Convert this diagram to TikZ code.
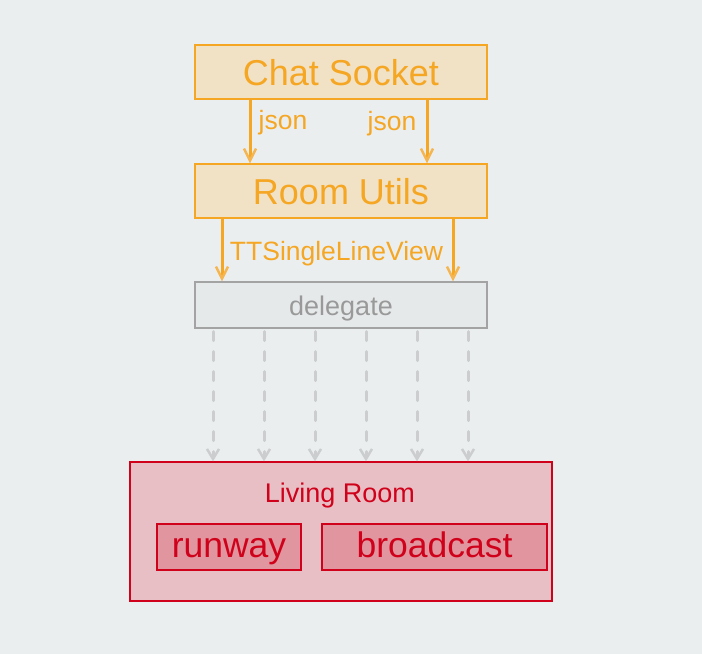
\documentclass[tikz,border=0pt]{standalone}
\usepackage{fontspec}
\setmainfont{Liberation Sans}
\usetikzlibrary{arrows.meta}
\definecolor{bg}{HTML}{EBEEEF}
\definecolor{org}{HTML}{F5A623}
\definecolor{orgl}{HTML}{F5B550}
\definecolor{peach}{HTML}{F1E2C6}
\definecolor{gbox}{HTML}{E6E9EA}
\definecolor{gline}{HTML}{A3A3A3}
\definecolor{gtext}{HTML}{999999}
\definecolor{gdash}{HTML}{CBCDCE}
\definecolor{rd}{HTML}{D0021B}
\definecolor{rfill}{HTML}{E8BFC5}
\definecolor{rfill2}{HTML}{E0959F}
\tikzset{
  obox/.style={draw=org, fill=peach, line width=1.3pt, minimum width=292pt, minimum height=54pt, inner sep=0pt, text=org, font=\fontsize{36}{40}\selectfont, text height=26pt, text depth=0pt},
  gbx/.style={draw=gline, fill=gbox, line width=1.3pt, minimum width=292pt, minimum height=46pt, inner sep=0pt, text=gtext, font=\fontsize{27}{32}\selectfont, text height=20pt, text depth=0pt},
  rbox/.style={draw=rd, fill=rfill2, line width=1.3pt, minimum height=46pt, inner sep=0pt, text=rd, font=\fontsize{35.5}{40}\selectfont, text height=20pt, text depth=0pt},
  oarr/.style={draw=org, line width=3pt, -{Straight Barb[length=12pt, width=12pt, line width=2.5pt, color=orgl]}},
  darr/.style={draw=gdash, line width=3pt, line cap=round, dash pattern=on 9pt off 11pt, -{Straight Barb[length=10pt, width=12pt, line width=2.5pt]}},
  olab/.style={text=org, font=\fontsize{26.5}{30}\selectfont, inner sep=0pt, anchor=base},
}
\begin{document}
\begin{tikzpicture}[x=1pt, y=-1pt]
\fill[bg] (0,0) rectangle (702,654);
\useasboundingbox (0,0) rectangle (702,654);
\node[obox] (cs) at (341,72) {Chat Socket};
\node[obox] (ru) at (341,191) {Room Utils};
\node[gbx] (dg) at (341,305) {delegate};
\node[draw=rd, fill=rfill, line width=1.3pt, minimum width=422pt, minimum height=139pt, inner sep=0pt] (lr) at (341,531.5) {};
\node[text=rd, font=\fontsize{27}{30}\selectfont, inner sep=0pt, anchor=base] (lrt) at (340,502) {Living Room};
\node[rbox, minimum width=144pt] (rw) at (229,547) {runway};
\node[rbox, minimum width=225pt] (bc) at (434.5,547) {broadcast};
\draw[oarr] ([xshift=-91pt]cs.south) -- ([xshift=-91pt]ru.north);
\draw[oarr] ([xshift=86pt]cs.south) -- ([xshift=86pt]ru.north);
\node[olab] (j1) at (283,129) {json};
\node[olab] (j2) at (392,130) {json};
\draw[oarr] ([xshift=-119pt]ru.south) -- ([xshift=-119pt]dg.north);
\draw[oarr] ([xshift=112pt]ru.south) -- ([xshift=112pt]dg.north);
\node[olab] (tt) at (336.5,260) {TTSingleLineView};
\foreach \dx in {-128,-77,-26,25,76,127} {
  \draw[darr] ([xshift=\dx pt, yshift=-3pt]dg.south) -- ([xshift=\dx pt]lr.north);
}
\end{tikzpicture}
\end{document}
